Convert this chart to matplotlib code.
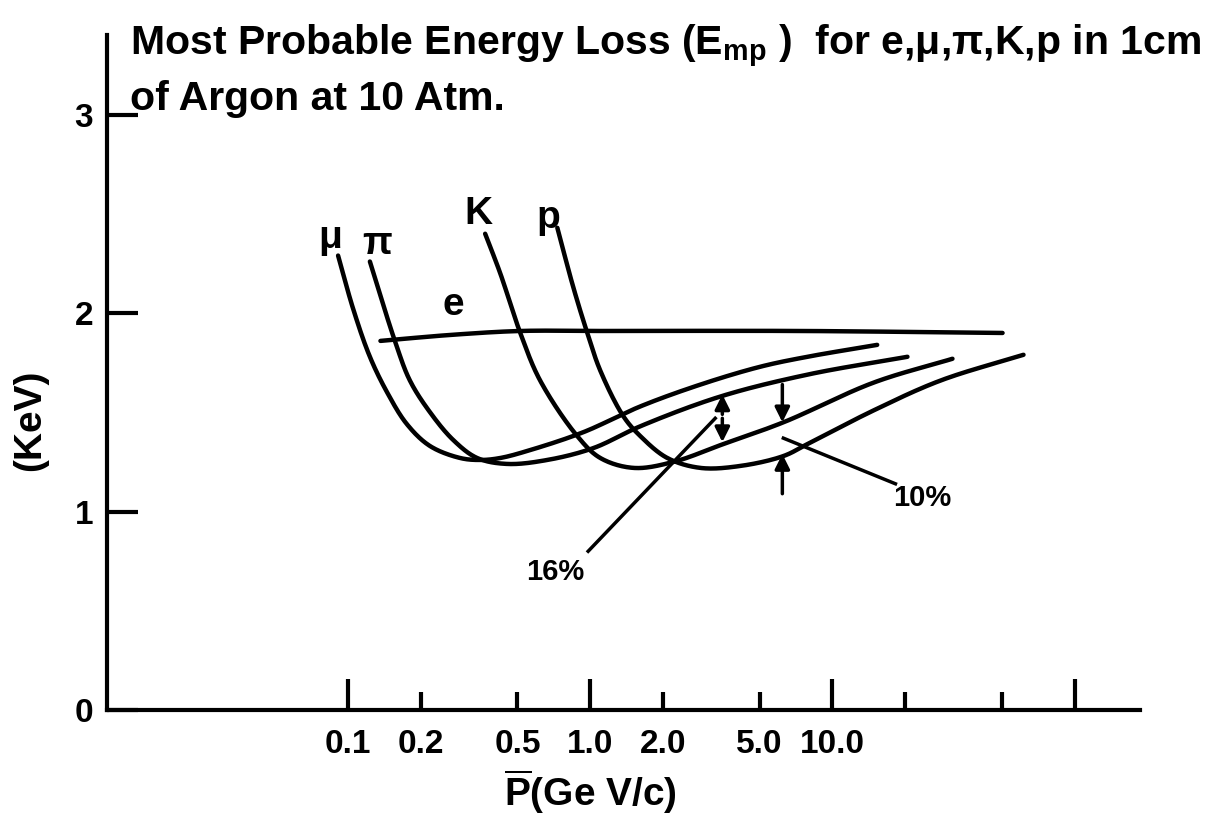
import numpy as np
import matplotlib
matplotlib.use("Agg")
import matplotlib.pyplot as plt

# momentum (GeV/c) and most probable energy loss (keV)
mu_p = [0.0909, 0.105, 0.123, 0.145, 0.175, 0.218, 0.290, 0.351, 0.425, 0.565, 0.936, 1.61, 2.85, 5.04, 7.88, 15.3]
mu_e = [2.29, 2.02, 1.78, 1.60, 1.44, 1.33, 1.27, 1.26, 1.27, 1.31, 1.40, 1.53, 1.64, 1.73, 1.78, 1.84]

pi_p = [0.123, 0.156, 0.180, 0.218, 0.272, 0.341, 0.454, 0.664, 1.03, 1.61, 3.45, 7.88, 20.4]
pi_e = [2.26, 1.86, 1.66, 1.50, 1.36, 1.27, 1.24, 1.26, 1.32, 1.43, 1.58, 1.69, 1.78]

k_p = [0.368, 0.425, 0.514, 0.621, 0.884, 1.10, 1.51, 2.20, 3.54, 6.28, 14.8, 31.3]
k_e = [2.40, 2.20, 1.90, 1.66, 1.38, 1.27, 1.22, 1.25, 1.34, 1.45, 1.65, 1.77]

pr_p = [0.731, 0.851, 0.972, 1.10, 1.37, 1.61, 2.08, 2.85, 4.17, 6.28, 7.88, 14.8, 27.9, 61.5]
pr_e = [2.43, 2.13, 1.90, 1.71, 1.48, 1.38, 1.27, 1.22, 1.23, 1.28, 1.34, 1.51, 1.66, 1.79]

e_p = [0.136, 0.264, 0.514, 1.10, 7.38, 50.4]
e_e = [1.86, 1.89, 1.91, 1.91, 1.91, 1.90]

x_ticks = [0.1, 0.2, 0.5, 1.0, 2.0, 5.0, 10.0, 20.0, 50.0, 100.0]
x_ticklabels = ["0.1", "0.2", "0.5", "1.0", "2.0", "5.0", "10.0", "", "", ""]
y_ticks = [0, 1, 2, 3]

fam = "Liberation Sans"
plt.rcParams["font.family"] = [fam, "DejaVu Sans"]
plt.rcParams["font.weight"] = "bold"
plt.rcParams["mathtext.fontset"] = "custom"
plt.rcParams["mathtext.rm"] = fam + ":bold"
plt.rcParams["mathtext.bf"] = fam + ":bold"
plt.rcParams["mathtext.it"] = fam + ":bold"

SX, SY = 242.0, 198.5  # rough px per decade / per keV, keeps the spline isotropic


def smooth(xs, ys, n=30):
    # centripetal catmull-rom through the read points, only for drawing
    P = np.column_stack([np.log10(xs) * SX, np.array(ys) * SY])
    P = np.vstack([2 * P[0] - P[1], P, 2 * P[-1] - P[-2]])
    out = []
    for i in range(1, len(P) - 2):
        p0, p1, p2, p3 = P[i - 1], P[i], P[i + 1], P[i + 2]
        t0 = 0.0
        t1 = t0 + np.linalg.norm(p1 - p0) ** 0.5
        t2 = t1 + np.linalg.norm(p2 - p1) ** 0.5
        t3 = t2 + np.linalg.norm(p3 - p2) ** 0.5
        t = np.linspace(t1, t2, n, endpoint=False)[:, None]
        a1 = (t1 - t) / (t1 - t0) * p0 + (t - t0) / (t1 - t0) * p1
        a2 = (t2 - t) / (t2 - t1) * p1 + (t - t1) / (t2 - t1) * p2
        a3 = (t3 - t) / (t3 - t2) * p2 + (t - t2) / (t3 - t2) * p3
        b1 = (t2 - t) / (t2 - t0) * a1 + (t - t0) / (t2 - t0) * a2
        b2 = (t3 - t) / (t3 - t1) * a2 + (t - t1) / (t3 - t1) * a3
        out.append((t2 - t) / (t2 - t1) * b1 + (t - t1) / (t2 - t1) * b2)
    out.append(P[-2][None])
    out = np.vstack(out)
    return 10 ** (out[:, 0] / SX), out[:, 1] / SY


fig = plt.figure(figsize=(12.13, 8.32), dpi=100)
ax = fig.add_axes([0.0882, 0.1466, 0.852, 0.811])
ax.set_xscale("log")
ax.set_xlim(0.0101, 187)
ax.set_ylim(0, 3.40)

for xs, ys in [(mu_p, mu_e), (pi_p, pi_e), (k_p, k_e), (pr_p, pr_e), (e_p, e_e)]:
    sx, sy = smooth(xs, ys)
    ax.plot(sx, sy, color="black", lw=3.2, solid_capstyle="round")

lab = dict(fontsize=28, ha="center", va="center")
ax.text(0.0843, 2.38, "μ", **lab)
ax.text(0.132, 2.35, "π", **lab)
ax.text(0.344, 2.50, "K", **lab)
ax.text(0.670, 2.48, "p", **lab)
ax.text(0.272, 2.04, "e", **lab)

# 16% marker
arr = dict(arrowstyle="-|>", color="black", lw=2.5, mutation_scale=22, shrinkA=0, shrinkB=0)
ax.annotate("", xy=(3.51, 1.59), xytext=(3.51, 1.49), arrowprops=arr)
ax.annotate("", xy=(3.51, 1.35), xytext=(3.51, 1.47), arrowprops=arr)
ax.plot([0.98, 3.28], [0.80, 1.47], color="black", lw=2.5)
ax.text(0.717, 0.695, "16%", fontsize=21, ha="center", va="center")

# 10% marker
ax.annotate("", xy=(6.21, 1.45), xytext=(6.21, 1.64), arrowprops=arr)
ax.annotate("", xy=(6.21, 1.29), xytext=(6.21, 1.09), arrowprops=arr)
ax.plot([6.27, 18.2], [1.37, 1.14], color="black", lw=2.5)
ax.text(23.5, 1.07, "10%", fontsize=21, ha="center", va="center")

ax.spines["top"].set_visible(False)
ax.spines["right"].set_visible(False)
ax.spines["left"].set_linewidth(3)
ax.spines["bottom"].set_linewidth(3)

ax.set_xticks(x_ticks)
ax.set_xticklabels(x_ticklabels)
ax.xaxis.set_minor_locator(matplotlib.ticker.NullLocator())
ax.tick_params(axis="x", direction="in", length=13, width=3, pad=14, labelsize=24)
for t in ax.xaxis.get_major_ticks():
    if t.get_loc() in (0.1, 1.0, 10.0, 100.0):
        t.tick1line.set_markersize(22)
ax.set_yticks(y_ticks)
ax.tick_params(axis="y", direction="in", length=22, width=3, pad=10, labelsize=24)

ax.set_xlabel(r"$\overline{\mathrm{P}}$(Ge V/c)", fontsize=28, fontweight="bold")
ax.xaxis.set_label_coords(0.4676, -0.085)
fig.text(30 / 1213, 1 - 420 / 832, "(KeV)", rotation=90, fontsize=28,
         fontweight="bold", ha="center", va="center")

fig.text(0.107, 0.934, r"Most Probable Energy Loss (E$_{\mathrm{mp}}$ )  for e,μ,π,K,p in 1cm",
         fontsize=29.5, ha="left", va="baseline")
fig.text(0.107, 0.868, "of Argon at 10 Atm.", fontsize=29.5, ha="left", va="baseline")

fig.savefig("out.png", dpi=100)
